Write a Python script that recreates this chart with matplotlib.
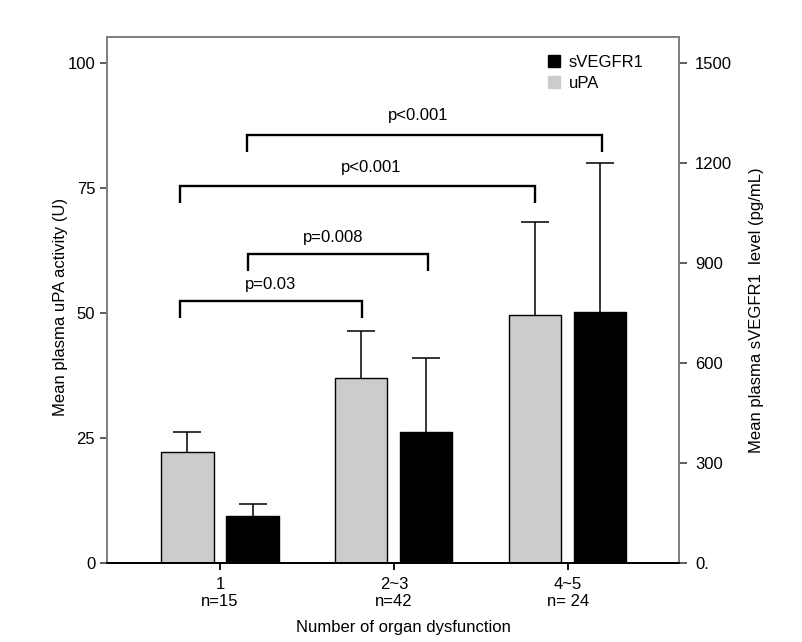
import matplotlib.pyplot as plt
from matplotlib.lines import Line2D

plt.rcParams['font.family'] = ['Liberation Sans', 'DejaVu Sans']
plt.rcParams['font.size'] = 12

groups = ['1\nn=15', '2~3\nn=42', '4~5\nn= 24']
upa_mean = [22.2, 36.9, 49.5]
upa_err = [3.9, 9.5, 18.6]
svegfr1_mean = [142, 393, 754]
svegfr1_err = [34, 223, 446]

# significance brackets: (x left, x right, y, drop, label, label x, label y)
brackets = [
    (0.155, 2.195, 85.6, 3.5, 'p<0.001', 1.14, 89.4),
    (-0.23, 1.81, 75.4, 3.5, 'p<0.001', 0.87, 79.0),
    (0.16, 1.194, 61.8, 3.5, 'p=0.008', 0.65, 65.0),
    (-0.23, 0.816, 52.4, 3.4, 'p=0.03', 0.29, 55.6),
]

grey = '#cccccc'
spine_grey = '#808080'

fig = plt.figure(figsize=(8.02, 6.42), dpi=100)
ax = fig.add_axes([0.1334, 0.1231, 0.7132, 0.8193])
ax2 = ax.twinx()

x = list(range(len(groups)))
off, w = 0.187, 0.30


def draw(a, xs, means, errs, color):
    a.bar(xs, means, w, color=color, edgecolor='black', linewidth=1.0,
          zorder=2)
    _, caps, _ = a.errorbar(xs, means, yerr=[[0] * len(errs), errs],
                            fmt='none', ecolor='black', elinewidth=1.1,
                            capsize=10, capthick=1.1, zorder=1)
    caps[0].set_visible(False)   # only the upper half of the error bar


draw(ax, [i - off for i in x], upa_mean, upa_err, grey)
draw(ax2, [i + off for i in x], svegfr1_mean, svegfr1_err, 'black')

for x0, x1, y, d, label, tx, ty in brackets:
    ax.plot([x0, x0, x1, x1], [y - d, y, y, y - d], color='black', lw=1.7,
            solid_capstyle='butt', solid_joinstyle='miter')
    ax.text(tx, ty, label, ha='center', va='center', fontsize=12)

ax.set_xlim(-0.65, 2.64)
ax.set_ylim(0, 105.2)
ax2.set_ylim(0, 1578)

ax.set_yticks([0, 25, 50, 75, 100])
ax2.set_yticks([0, 300, 600, 900, 1200, 1500])
ax2.set_yticklabels(['0.', '300', '600', '900', '1200', '1500'])
ax.set_xticks(x)
ax.set_xticklabels(groups)

for a in (ax, ax2):
    for side in ('top', 'left', 'right'):
        a.spines[side].set_color(spine_grey)
        a.spines[side].set_linewidth(1.3)
    a.spines['bottom'].set_color('black')
    a.spines['bottom'].set_linewidth(1.3)

ax.tick_params(axis='y', direction='out', length=5, width=1.3,
               color='#505050', pad=3.5)
ax2.tick_params(axis='y', direction='out', length=5.8, width=1.3,
                color='#505050', pad=5.8)
ax.tick_params(axis='x', direction='out', length=5, width=1.3, pad=5)

ax.set_xlabel('Number of organ dysfunction')
ax.xaxis.set_label_coords(0.518, -0.108)
ax.set_ylabel('Mean plasma uPA activity (U)')
ax.yaxis.set_label_coords(-0.068, 0.487)
ax2.set_ylabel('Mean plasma sVEGFR1  level (pg/mL)')
ax2.yaxis.set_label_coords(1.123, 0.481)

handles = [
    Line2D([], [], marker='s', color='black', linestyle='none', markersize=8),
    Line2D([], [], marker='s', color=grey, linestyle='none', markersize=8),
]
ax2.legend(handles, ['sVEGFR1', 'uPA'], loc='upper left',
           bbox_to_anchor=(547 / 802, 1 - 55 / 642),
           bbox_transform=fig.transFigure, frameon=False, borderpad=0,
           borderaxespad=0, handlelength=0.8, handletextpad=0.5,
           labelspacing=0.37, fontsize=12)

fig.savefig('out.png', dpi=100)
